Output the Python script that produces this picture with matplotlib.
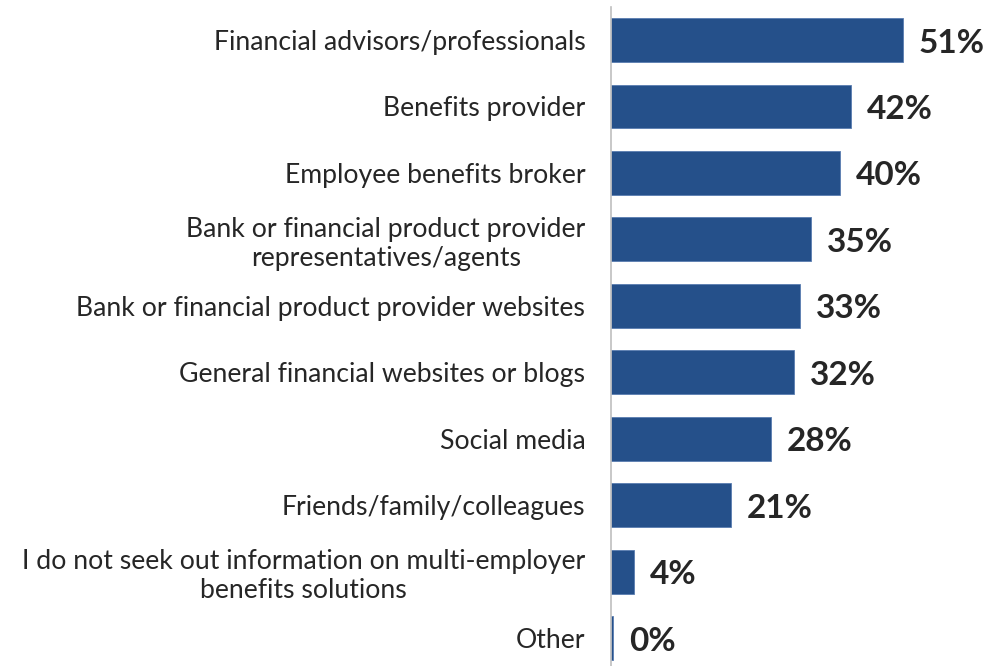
import matplotlib
matplotlib.use("Agg")
import matplotlib.pyplot as plt
from matplotlib.transforms import offset_copy

categories = [
    "Financial advisors/professionals",
    "Benefits provider",
    "Employee benefits broker",
    "Bank or financial product provider\nrepresentatives/agents",
    "Bank or financial product provider websites",
    "General financial websites or blogs",
    "Social media",
    "Friends/family/colleagues",
    "I do not seek out information on multi-employer\nbenefits solutions",
    "Other",
]
values = [51, 42, 40, 35, 33, 32, 28, 21, 4, 0]
value_labels = ["51%", "42%", "40%", "35%", "33%", "32%", "28%", "21%", "4%", "0%"]

bar_color = "#25508A"
text_color = "#262626"

plt.rcParams["font.family"] = ["Lato", "DejaVu Sans"]

fig = plt.figure(figsize=(10.01, 6.66), dpi=100)
W, H = 1001, 666
ax = fig.add_axes([611 / W, 0, (W - 611) / W, (666 - 6.8) / H])

pos = list(range(len(categories)))
# tiny visible sliver for the zero bar
draw_vals = [v if v > 0 else 0.3 for v in values]
ax.barh(pos, draw_vals, height=0.66, color=bar_color, edgecolor="#5A7DB0", linewidth=0.6)

ax.set_xlim(0, 390 / 5.72)
ax.set_ylim(9.42, -0.5)

label_tr = offset_copy(ax.transData, fig=fig, x=0, y=-3, units="dots")
for i, (v, lab) in enumerate(zip(values, value_labels)):
    ax.text(max(v, 0.3) + 16 / 5.72, i, lab, va="center", ha="left",
            fontsize=24, fontweight="bold", color=text_color, transform=label_tr)

ax.set_yticks(pos)
ax.set_yticklabels(categories, fontsize=19.2, color=text_color,
                   multialignment="center", linespacing=1.2)
ax.tick_params(axis="y", length=0, pad=18.5)
ax.set_xticks([])

for s in ["top", "right", "bottom"]:
    ax.spines[s].set_visible(False)
ax.spines["left"].set_color("#BFBFBF")
ax.spines["left"].set_linewidth(1.2)

fig.savefig("out.png", dpi=100)
